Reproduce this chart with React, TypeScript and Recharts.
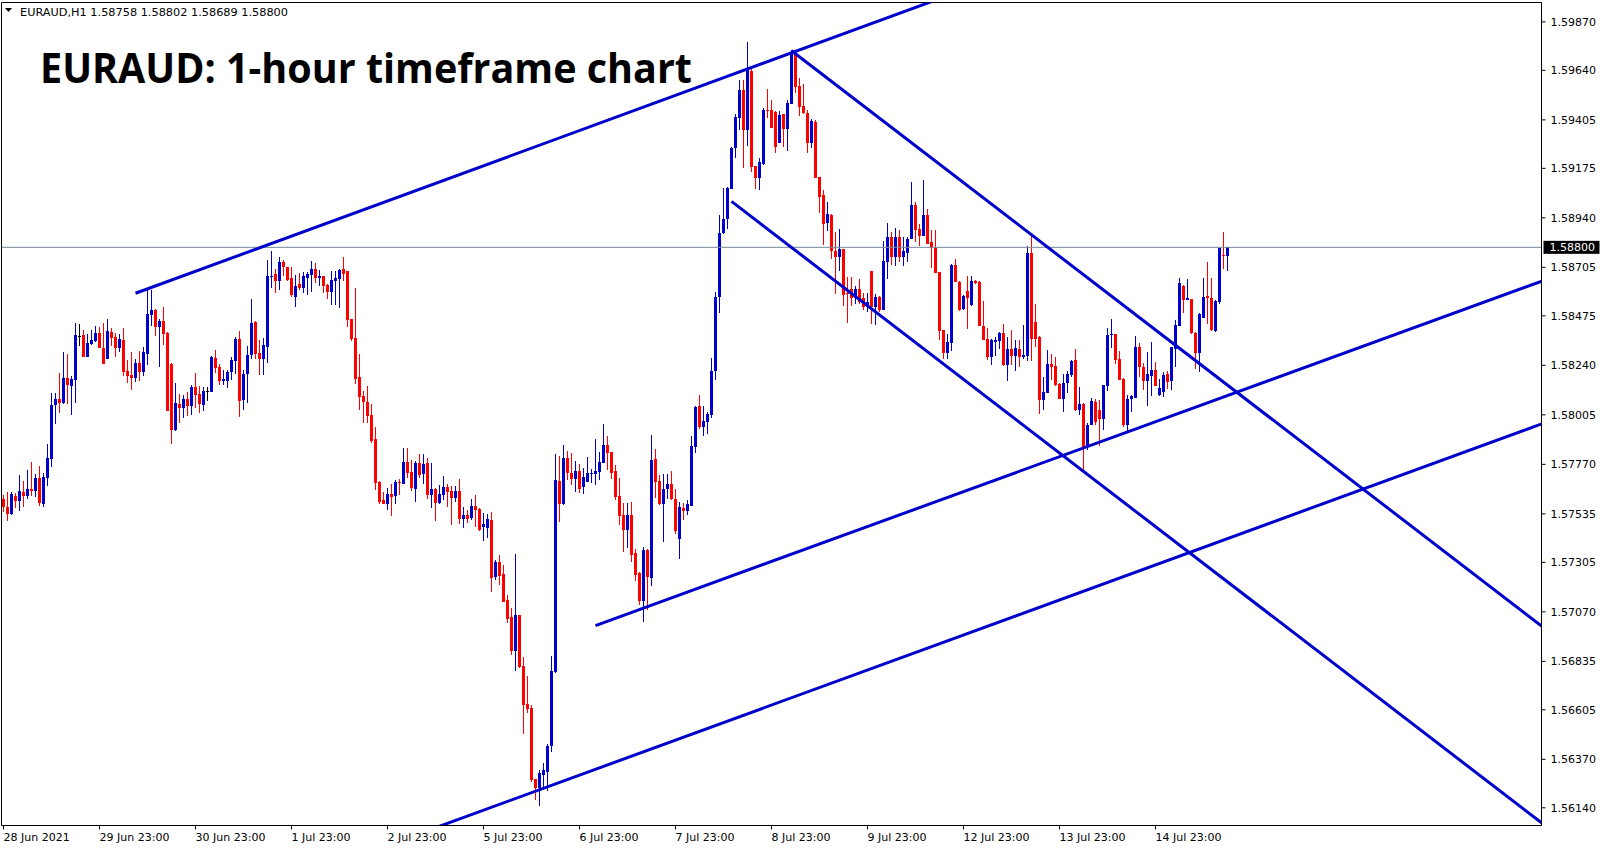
import React from 'react';
import { ComposedChart, Bar, XAxis, YAxis, ReferenceLine, ReferenceArea } from 'recharts';

// EURAUD H1 candles, prices in points (1 point = 0.00001)
const OPEN = [
  157606,157568,157535,157620,157596,157639,157620,157654,157644,157706,
  157582,157706,157796,158052,158080,158062,158180,158142,158171,158379,
  158384,158280,158341,158355,158394,158322,158270,158398,158375,158322,
  158360,158213,158194,158180,158251,158209,158294,158479,158503,158422,
  158451,158394,158247,157934,158057,158038,158080,158047,158138,158104,
  158052,158118,158114,158275,158232,158166,158166,158209,158261,158365,
  158076,158199,158289,158446,158299,158270,158327,158660,158674,158641,
  158731,158707,158655,158565,158626,158607,158655,158669,158698,158655,
  158664,158622,158588,158641,158650,158698,158688,158460,158370,158185,
  158095,158066,158005,157891,157687,157601,157582,157630,157620,157687,
  157677,157782,157734,157654,157777,157725,157777,157625,157654,157587,
  157625,157663,157644,157611,157644,157511,157530,157516,157573,157559,
  157473,157468,157506,157236,157307,157250,157127,157046,156884,157055,
  156813,156633,156614,156277,156234,156296,156310,156434,156785,157691,
  157582,157801,157730,157701,157739,157663,157687,157725,157725,157734,
  157777,157862,157829,157739,157620,157530,157459,157530,157350,157255,
  157122,157364,157231,157796,157691,157582,157654,157677,157606,157416,
  157563,157549,157573,157853,158047,157948,157972,158005,158213,158565,
  158868,158935,159077,159272,159414,159547,159357,159637,159186,159129,
  159196,159452,159452,159443,159295,159433,159362,159480,159718,159566,
  159471,159438,159295,159395,159134,159049,158916,158954,158783,158754,
  158792,158584,158603,158560,158603,158560,158517,158688,158517,158565,
  158503,158731,158849,158754,158849,158754,158773,158840,159001,158887,
  158854,158954,158826,158797,158683,158408,158299,158346,158716,158636,
  158508,158593,158527,158641,158636,158427,158365,158280,158351,158355,
  158394,158242,158318,158285,158318,158280,158285,158773,158446,158375,
  158076,158109,158247,158237,158152,158080,158157,158194,158266,158029,
  158057,157853,157957,158066,158029,157986,158142,158387,158389,158270,
  158175,157957,158080,158085,158327,158232,158166,158190,158218,158099,
  158114,158199,158166,158318,158427,158617,158550,158553,158394,158299,
  158465,158569,158560,158403,158541,158764,158758,
];

const HIGH = [
  157625,157639,157639,157635,157720,157691,157744,157782,157725,157763,
  157730,157867,158109,158109,158204,158303,158294,158190,158441,158436,
  158408,158389,158408,158427,158422,158441,158460,158417,158394,158389,
  158417,158266,158303,158270,158308,158327,158598,158598,158505,158460,
  158517,158396,158251,158157,158104,158099,158114,158147,158204,158142,
  158138,158138,158284,158313,158247,158218,158218,158280,158375,158403,
  158218,158332,158555,158451,158360,158370,158740,158783,158698,158754,
  158740,158709,158709,158669,158679,158683,158683,158736,158726,158693,
  158666,158624,158688,158688,158698,158754,158690,158462,158607,158294,
  158118,158142,158057,157948,157689,157639,157658,157677,157696,157701,
  157848,157848,157791,157786,157820,157820,157801,157777,157656,157672,
  157715,157677,157665,157668,157701,157568,157554,157606,157625,157561,
  157539,157535,157544,157317,157341,157293,157151,157089,157345,157057,
  156856,156766,156628,156279,156320,156353,156443,156861,157820,157810,
  157862,157834,157824,157786,157772,157753,157805,157748,157891,157829,
  157962,157905,157831,157767,157706,157587,157587,157589,157369,157257,
  157379,157366,157910,157843,157720,157725,157725,157739,157654,157592,
  157587,157601,157905,158045,158099,158047,158019,158275,158588,158954,
  159082,159084,159274,159433,159594,159594,159775,159646,159188,159224,
  159461,159552,159499,159445,159447,159435,159499,159737,159737,159604,
  159575,159452,159409,159405,159136,159072,159015,158958,158873,158887,
  158794,158659,158659,158617,158650,158584,158584,158690,158579,158570,
  158830,158916,158873,158892,158882,158849,158851,159110,159015,158911,
  159120,158982,158882,158882,158685,158410,158389,158721,158745,158638,
  158574,158664,158664,158643,158638,158545,158417,158365,158375,158396,
  158436,158375,158408,158360,158360,158432,158807,158854,158531,158377,
  158185,158313,158294,158280,158154,158199,158213,158263,158318,158138,
  158062,157967,158085,158080,158076,158149,158417,158460,158391,158308,
  158178,158099,158099,158379,158346,158251,158303,158351,158256,158175,
  158209,158213,158329,158455,158655,158619,158650,158555,158396,158486,
  158655,158731,158655,158550,158798,158873,158802,
];

const LOW = [
  157544,157501,157530,157563,157549,157568,157606,157620,157616,157573,
  157568,157668,157758,157962,158015,158058,158057,158005,158062,158332,
  158278,158278,158337,158353,158320,158245,158268,158332,158280,158303,
  158190,158157,158123,158161,158166,158190,158242,158427,158379,158232,
  158337,158022,157867,157929,157967,157991,158000,158005,158038,158015,
  158024,158071,158112,158204,158147,158147,158133,158171,158199,157995,
  158029,158062,158270,158270,158194,158194,158251,158607,158584,158598,
  158664,158641,158565,158517,158598,158584,158574,158588,158631,158617,
  158584,158555,158527,158527,158512,158641,158422,158355,158152,158029,
  157967,157967,157872,157649,157582,157580,157554,157525,157582,157625,
  157675,157706,157644,157592,157706,157677,157606,157563,157501,157582,
  157601,157568,157482,157592,157487,157468,157492,157506,157473,157454,
  157407,157421,157164,157222,157198,157115,157017,156865,156789,156804,
  156491,156590,156263,156177,156149,156225,156220,156405,156780,157497,
  157578,157696,157672,157639,157635,157630,157685,157682,157672,157696,
  157775,157744,157701,157601,157482,157355,157374,157307,157217,157103,
  157022,157079,157193,157611,157578,157402,157606,157601,157440,157321,
  157506,157530,157571,157824,157939,157905,157915,157991,158171,158488,
  158865,158887,159075,159224,159357,159177,159281,159158,159077,159072,
  159191,159414,159364,159248,159293,159276,159257,159478,159533,159423,
  159433,159248,159272,159127,158963,158811,158878,158745,158579,158688,
  158522,158441,158522,158531,158531,158503,158493,158436,158432,158493,
  158501,158650,158716,158712,158731,158712,158731,158838,158826,158807,
  158852,158814,158702,158676,158360,158270,158270,158308,158634,158498,
  158503,158413,158522,158626,158425,158358,158266,158242,158285,158318,
  158237,158166,158242,158213,158232,158270,158261,158261,158327,158010,
  158029,158107,158171,158142,158078,158019,158109,158185,158022,158005,
  157744,157839,157955,157955,157858,157934,158118,158322,158247,158169,
  157948,157929,158019,158083,158185,158123,158047,158095,158140,158095,
  158090,158128,158123,158232,158425,158488,158548,158389,158223,158209,
  158463,158436,158403,158398,158531,158698,158689,
];

const CLOSE = [
  157568,157535,157630,157596,157644,157620,157654,157644,157706,157587,
  157710,157801,158052,158080,158062,158180,158147,158175,158384,158379,
  158280,158346,158360,158394,158322,158247,158403,158370,158322,158365,
  158209,158190,158180,158251,158209,158303,158484,158503,158422,158451,
  158389,158024,157934,158062,158038,158080,158047,158138,158099,158057,
  158118,158118,158280,158228,158166,158175,158209,158266,158365,158071,
  158199,158289,158441,158294,158270,158337,158664,158664,158641,158731,
  158707,158645,158574,158617,158607,158664,158674,158698,158655,158664,
  158617,158588,158645,158655,158693,158674,158455,158365,158175,158090,
  158066,158000,157881,157682,157592,157582,157630,157616,157687,157682,
  157782,157730,157658,157777,157720,157772,157625,157654,157587,157630,
  157663,157639,157611,157644,157511,157530,157511,157573,157554,157459,
  157487,157511,157231,157307,157241,157117,157036,156884,157055,156808,
  156628,156609,156272,156234,156306,156320,156434,156789,157696,157582,
  157801,157730,157701,157739,157654,157710,157730,157730,157739,157782,
  157862,157824,157730,157616,157525,157459,157530,157341,157245,157122,
  157364,157236,157791,157687,157582,157654,157677,157606,157454,157568,
  157549,157582,157857,158043,157948,157976,158010,158213,158565,158868,
  158935,159082,159272,159419,159547,159357,159651,159181,159129,159205,
  159452,159447,159366,159276,159428,159362,159485,159727,159561,159466,
  159438,159295,159400,159129,159039,158911,158958,158783,158754,158792,
  158574,158579,158560,158603,158541,158517,158541,158517,158565,158503,
  158735,158849,158754,158849,158754,158783,158840,159001,158882,158854,
  158954,158816,158797,158678,158403,158299,158351,158716,158636,158503,
  158569,158560,158641,158631,158427,158360,158280,158360,158360,158394,
  158242,158318,158285,158322,158280,158289,158773,158365,158365,158076,
  158114,158247,158232,158147,158080,158157,158199,158261,158029,158057,
  157853,157957,158071,157971,157986,158147,158384,158389,158266,158171,
  157957,158080,158095,158327,158232,158166,158199,158218,158142,158133,
  158194,158161,158327,158432,158631,158550,158560,158394,158299,158484,
  158565,158560,158408,158545,158797,158759,158800,
];

// time axis: bar index of each label and its text
const TIME_TICKS = [0, 24, 48, 72, 96, 120, 144, 168, 192, 216, 240, 264, 288];
const TIME_LABELS = [
  '28 Jun 2021', '29 Jun 23:00', '30 Jun 23:00', '1 Jul 23:00', '2 Jul 23:00',
  '5 Jul 23:00', '6 Jul 23:00', '7 Jul 23:00', '8 Jul 23:00', '9 Jul 23:00',
  '12 Jul 23:00', '13 Jul 23:00', '14 Jul 23:00',
];

// price scale
const PRICE_TICKS = [
  159870, 159640, 159405, 159175, 158940, 158705, 158475, 158240, 158005,
  157770, 157535, 157305, 157070, 156835, 156605, 156370, 156140,
];
const PRICE_MIN = 156056;
const PRICE_MAX = 159962;
const BID = 158800;

// total bar slots on screen (candles plus empty space to the right)
const SLOTS = 385;

// trend lines as [barA, priceA, barB, priceB]
const TRENDLINES: [number, number, number, number][] = [
  [33, 158582, 240, 160022],
  [197, 159733, 390, 156923],
  [182, 159018, 390, 155989],
  [148, 157005, 390, 158677],
  [100, 155990, 390, 158000],
];

const SYMBOL = 'EURAUD,H1';
const TITLE = 'EURAUD: 1-hour timeframe chart';

const BULL = '#0000CD';
const BEAR = '#FF0000';
const LINE = '#0000CD';
const AXIS_FONT = '"DejaVu Sans", sans-serif';

const fmt = (p: number) => (p / 100000).toFixed(5);

const rows = Array.from({ length: SLOTS }, (_, i) =>
  i < OPEN.length
    ? { slot: i, open: OPEN[i], high: HIGH[i], low: LOW[i], close: CLOSE[i], range: [LOW[i], HIGH[i]] }
    : { slot: i }
);

function Candle(props: any) {
  const { x, y, width, height, payload } = props;
  if (!payload || payload.open == null) return null;
  const { open, close, high, low } = payload;
  const top = Math.min(y, y + height);
  const h = Math.abs(height);
  const span = high - low || 1;
  const toY = (p: number) => top + ((high - p) / span) * h;
  const center = x + width / 2;
  const left = Math.floor(center) - 1;
  const yHigh = Math.round(toY(high));
  const yLow = Math.round(toY(low));
  const bodyTop = Math.round(toY(Math.max(open, close)));
  const bodyBot = Math.round(toY(Math.min(open, close)));
  const color = close > open ? BULL : close < open ? BEAR : '#000';
  if (open === close) {
    return (
      <g>
        <rect x={left + 1} y={yHigh} width={1} height={Math.max(1, yLow - yHigh)} fill={color} />
        <rect x={left} y={bodyTop} width={3} height={1} fill={color} />
      </g>
    );
  }
  return (
    <g>
      <rect x={left + 1} y={yHigh} width={1} height={Math.max(1, yLow - yHigh)} fill={color} />
      <rect x={left} y={bodyTop} width={3} height={Math.max(1, bodyBot - bodyTop)} fill={color} />
    </g>
  );
}

function TimeTick(props: any) {
  const { x, y, payload } = props;
  const idx = TIME_TICKS.indexOf(payload.value);
  return (
    <text x={x} y={y + 9} fontFamily={AXIS_FONT} fontSize={11} fill="#000" textAnchor="start">
      {TIME_LABELS[idx]}
    </text>
  );
}

function BidLabel(props: any) {
  const vb = props.viewBox || {};
  const x0 = (vb.x || 0) + (vb.width || 0) + 2;
  const y0 = vb.y || 0;
  return (
    <g>
      <rect x={x0} y={y0 - 6.5} width={56} height={13} fill="#000" />
      <text x={x0 + 6} y={y0 + 4} fontFamily={AXIS_FONT} fontSize={11} fill="#fff">
        {fmt(BID)}
      </text>
    </g>
  );
}

export default function App() {
  const last = OPEN.length - 1;
  const header = `${SYMBOL}  ${fmt(OPEN[last])} ${fmt(HIGH[last])} ${fmt(LOW[last])} ${fmt(CLOSE[last])}`;
  return (
    <div style={{ position: 'absolute', left: 0, top: 0, width: 1607, height: 850, background: '#fff' }}>
      <ComposedChart
        width={1607}
        height={850}
        data={rows}
        margin={{ top: 2.5, right: 0, bottom: 0, left: 1.5 }}
        barCategoryGap={0}
        barGap={0}
      >
        <XAxis
          dataKey="slot"
          type="category"
          ticks={TIME_TICKS}
          interval={0}
          height={24.5}
          tickSize={4}
          tickMargin={2}
          axisLine={{ stroke: '#000' }}
          tickLine={{ stroke: '#000' }}
          tick={<TimeTick />}
        />
        <XAxis
          xAxisId="num"
          dataKey="slot"
          type="number"
          domain={[-0.5, SLOTS - 0.5]}
          allowDataOverflow
          hide
        />
        <YAxis
          orientation="right"
          type="number"
          width={65.5}
          domain={[PRICE_MIN, PRICE_MAX]}
          ticks={PRICE_TICKS}
          interval={0}
          allowDataOverflow
          tickSize={4}
          tickMargin={5}
          axisLine={{ stroke: '#000' }}
          tickLine={{ stroke: '#000' }}
          tickFormatter={fmt}
          tick={{ fontFamily: AXIS_FONT, fontSize: 11, fill: '#000' }}
        />
        <ReferenceLine y={BID} stroke="#778899" strokeWidth={1} label={<BidLabel />} ifOverflow="visible" />
        <Bar dataKey="range" isAnimationActive={false} shape={<Candle />} />
        {TRENDLINES.map(([a, pa, b, pb], i) => (
          <ReferenceLine
            key={i}
            xAxisId="num"
            segment={[{ x: a, y: pa }, { x: b, y: pb }]}
            stroke={LINE}
            strokeWidth={3}
            ifOverflow="hidden"
          />
        ))}
        <ReferenceArea
          xAxisId="num"
          x1={-0.5}
          x2={SLOTS - 0.5}
          y1={PRICE_MIN}
          y2={PRICE_MAX}
          fill="none"
          fillOpacity={0}
          stroke="#000"
          strokeWidth={1}
          ifOverflow="visible"
        />
      </ComposedChart>
      <svg
        width={1607}
        height={850}
        style={{ position: 'absolute', left: 0, top: 0, pointerEvents: 'none' }}
      >
        <path d="M5 8 L12 8 L8.5 12 Z" fill="#000" />
        <text x={20} y={16} fontFamily={AXIS_FONT} fontSize={11} fill="#000" textLength={268} lengthAdjust="spacingAndGlyphs">
          {header}
        </text>
        <text
          x={40}
          y={83}
          fontFamily='"Open Sans", sans-serif'
          fontWeight={700}
          fontSize={41}
          fill="#000"
          textLength={652}
          lengthAdjust="spacingAndGlyphs"
        >
          {TITLE}
        </text>
      </svg>
    </div>
  );
}
